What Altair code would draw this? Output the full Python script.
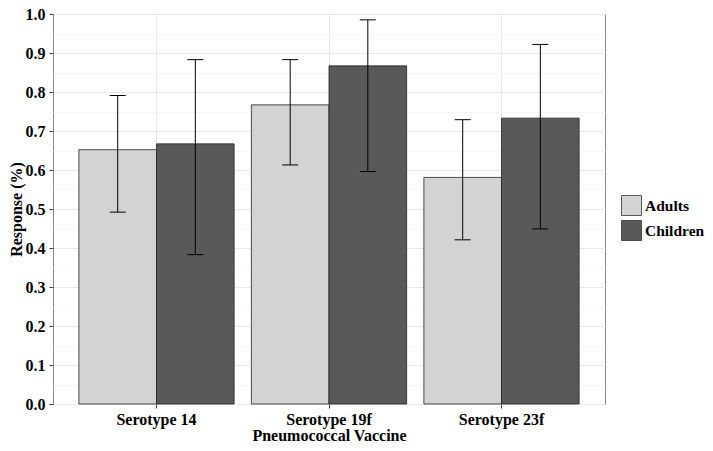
import altair as alt
import pandas as pd

serotypes = ["Serotype 14", "Serotype 19f", "Serotype 23f"]
groups = ["Adults", "Children"]
adults_resp = [0.652, 0.767, 0.581]
adults_lo = [0.492, 0.613, 0.421]
adults_hi = [0.791, 0.883, 0.729]
children_resp = [0.667, 0.867, 0.733]
children_lo = [0.383, 0.596, 0.449]
children_hi = [0.883, 0.985, 0.922]
y_ticks = [round(i * 0.05, 2) for i in range(21)]

rows = []
for i, s in enumerate(serotypes):
    rows.append({"Serotype": s, "Group": "Adults", "resp": adults_resp[i], "lo": adults_lo[i], "hi": adults_hi[i]})
    rows.append({"Serotype": s, "Group": "Children", "resp": children_resp[i], "lo": children_lo[i], "hi": children_hi[i]})
df = pd.DataFrame(rows)

FONT = "Liberation Serif"
MAJOR = "round(datum.value*20) % 2 == 0"

x_axis = alt.Axis(
    title="Pneumococcal Vaccine",
    labelAngle=0,
    bandPosition=0.5,
    grid=True,
    gridColor="#e8e8e8",
    tickSize=4,
    tickColor="#444444",
    labelPadding=3,
    titlePadding=0,
    domain=False,
)
y_axis = alt.Axis(
    title="Response (%)",
    values=y_ticks,
    labelOverlap=False,
    labelExpr="(" + MAJOR + ") ? format(datum.value, '.1f') : ''",
    gridColor={"condition": {"test": MAJOR, "value": "#e8e8e8"}, "value": "#f6f6f6"},
    tickOpacity={"condition": {"test": MAJOR, "value": 1}, "value": 0},
    tickSize=4,
    tickColor="#444444",
    labelPadding=4,
    titlePadding=1,
    domain=False,
)
x_scale = alt.Scale(paddingInner=0.1, paddingOuter=0.15)
y_scale = alt.Scale(domain=[0, 1], nice=False, zero=True)

def xenc():
    return alt.X("Serotype:N", sort=serotypes, scale=x_scale, axis=x_axis)

xoff = alt.XOffset("Group:N", sort=groups, scale=alt.Scale(paddingInner=0, paddingOuter=0))

bars = alt.Chart(df).mark_bar(stroke="#222222", strokeWidth=0.8, opacity=1).encode(
    x=xenc(),
    xOffset=xoff,
    y=alt.Y("resp:Q", scale=y_scale, axis=y_axis),
    color=alt.Color(
        "Group:N",
        sort=groups,
        scale=alt.Scale(domain=groups, range=["#d3d3d3", "#595959"]),
        legend=alt.Legend(
            title=None,
            orient="none",
            legendX=568,
            legendY=181,
            symbolType="square",
            symbolSize=400,
            symbolStrokeColor="#333333",
            symbolStrokeWidth=0.8,
            symbolOpacity=1,
            rowPadding=0,
            labelOffset=3,
            labelFont=FONT,
            labelFontWeight="bold",
            labelFontSize=15.5,
            labelColor="#000000",
        ),
    ),
)

rules = alt.Chart(df).mark_rule(color="#000000", strokeWidth=1).encode(
    x=xenc(),
    xOffset=xoff,
    y=alt.Y("lo:Q", scale=y_scale, axis=y_axis),
    y2="hi:Q",
)

caps_lo = alt.Chart(df).mark_tick(color="#000000", thickness=1, size=16, opacity=1).encode(
    x=xenc(),
    xOffset=xoff,
    y=alt.Y("lo:Q", scale=y_scale, axis=y_axis),
)
caps_hi = alt.Chart(df).mark_tick(color="#000000", thickness=1, size=16, opacity=1).encode(
    x=xenc(),
    xOffset=xoff,
    y=alt.Y("hi:Q", scale=y_scale, axis=y_axis),
)

chart = (
    alt.layer(bars, rules, caps_lo, caps_hi)
    .properties(
        width=552,
        height=390,
        autosize=alt.AutoSizeParams(type="none"),
        padding={"left": 45, "top": 6, "right": 100, "bottom": 39},
    )
    .configure_view(stroke="#8a8a8a", strokeWidth=1)
    .configure_axis(
        labelFont=FONT,
        labelFontWeight="bold",
        labelFontSize=16,
        labelColor="#000000",
        labelOverlap=False,
        titleFont=FONT,
        titleFontWeight="bold",
        titleFontSize=16,
        titleColor="#000000",
    )
)

chart.save("out.html", embed_options={"renderer": "svg", "actions": False})
